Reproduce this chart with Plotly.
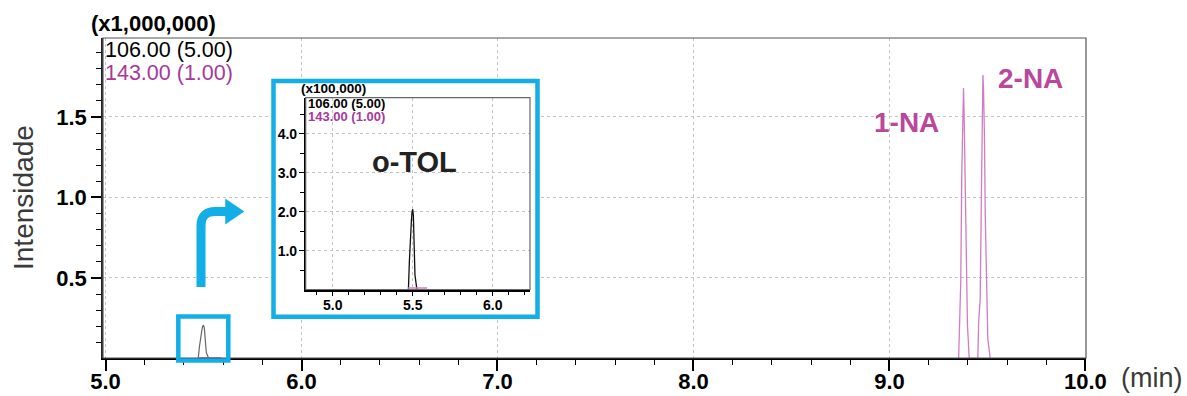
import plotly.graph_objects as go

# ---- data (time in min, intensity in counts) ----
otol_time = [5.467, 5.473, 5.479, 5.485, 5.4915, 5.4956, 5.500, 5.504, 5.508, 5.514, 5.525, 5.531]
otol_counts = [0, 0, 73000, 140000, 176000, 200000, 207000, 190000, 130000, 38000, 4000, 0]

m143_otol_time = [5.470, 5.590]
m143_otol_counts = [5000, 5000]

na1_time = [9.353, 9.356, 9.364, 9.369, 9.374, 9.378, 9.381, 9.386, 9.391, 9.398, 9.407]
na1_counts = [0, 150000, 480000, 1140000, 1530000, 1680000, 1530000, 1140000, 610000, 210000, 0]

na2_time = [9.451, 9.455, 9.463, 9.468, 9.472, 9.477, 9.480, 9.485, 9.489, 9.497, 9.502, 9.514]
na2_counts = [0, 220000, 370000, 880000, 1440000, 1760000, 1680000, 1370000, 880000, 370000, 120000, 0]

main_x_ticks = [5.0, 6.0, 7.0, 8.0, 9.0, 10.0]
main_x_labels = ["5.0", "6.0", "7.0", "8.0", "9.0", "10.0"]
main_y_ticks = [0.5, 1.0, 1.5]
main_y_labels = ["0.5", "1.0", "1.5"]
inset_x_ticks = [5.0, 5.5, 6.0]
inset_x_labels = ["5.0", "5.5", "6.0"]
inset_y_ticks = [1.0, 2.0, 3.0, 4.0]
inset_y_labels = ["1.0", "2.0", "3.0", "4.0"]

# ---- page geometry helpers (pixels -> paper fractions) ----
W, H = 1187, 396


def fx(px):
    return px / W


def fy(py):
    return 1 - py / H


FONT = "Liberation Sans, Arial, sans-serif"
CYAN = "#12aee8"
PINK_LINE = "#d47cc3"
PINK_TEXT = "#bb479d"
PURPLE_TEXT = "#a8389a"
GRID = "#c4c4c4"

m143_time = m143_otol_time + [None] + na1_time + na2_time
m143_counts = m143_otol_counts + [None] + na1_counts + na2_counts


def scaled(vals, f):
    return [None if v is None else v / f for v in vals]


fig = go.Figure()

# main chromatogram (x1,000,000)
fig.add_trace(go.Scatter(x=otol_time, y=scaled(otol_counts, 1e6), mode="lines",
                         line=dict(color="#666666", width=1.2), xaxis="x", yaxis="y"))
fig.add_trace(go.Scatter(x=m143_time, y=scaled(m143_counts, 1e6), mode="lines",
                         line=dict(color=PINK_LINE, width=1.3), xaxis="x", yaxis="y"))

# white panel behind the zoomed view
fig.add_trace(go.Scatter(x=[], y=[], xaxis="x2", yaxis="y2", hoverinfo="skip"))

# zoomed view (x100,000)
fig.add_trace(go.Scatter(x=otol_time, y=scaled(otol_counts, 1e5), mode="lines",
                         line=dict(color="#111111", width=1.3), xaxis="x3", yaxis="y3"))
fig.add_trace(go.Scatter(x=m143_otol_time, y=scaled(m143_otol_counts, 1e5), mode="lines",
                         line=dict(color=PINK_LINE, width=1.5), xaxis="x3", yaxis="y3"))

main_dom_x = [fx(103), fx(1086)]
main_dom_y = [fy(358), fy(38)]
ins_dom_x = [fx(305.7), fx(530)]
ins_dom_y = [fy(289.5), fy(97.7)]
box_dom_x = [fx(272), fx(539.5)]
box_dom_y = [fy(319), fy(79)]

big_tick = dict(family=FONT, size=22, color="black", weight="bold")
small_tick = dict(family=FONT, size=14, color="black", weight="bold")

fig.update_layout(
    width=W, height=H,
    margin=dict(l=0, r=0, t=0, b=0, pad=0, autoexpand=False),
    paper_bgcolor="white", plot_bgcolor="white",
    showlegend=False,
    xaxis=dict(domain=main_dom_x, range=[4.987, 10.003], anchor="y", automargin=False,
               tickmode="array", tickvals=main_x_ticks, ticktext=main_x_labels,
               ticks="outside", ticklen=11, tickwidth=1.5, tickcolor="black",
               tickfont=big_tick, ticklabelstandoff=-8,
               showline=True, linecolor="black", linewidth=2,
               showgrid=True, gridcolor=GRID, gridwidth=1, griddash="3px,3px",
               zeroline=False,
               minor=dict(tickmode="linear", tick0=5.0, dtick=0.2, ticks="outside",
                          ticklen=5, tickwidth=1.2, tickcolor="black", showgrid=False)),
    yaxis=dict(domain=main_dom_y, range=[0.003, 1.99], anchor="x", automargin=False,
               tickmode="array", tickvals=main_y_ticks, ticktext=main_y_labels,
               ticks="outside", ticklen=10, tickwidth=1.5, tickcolor="black",
               tickfont=big_tick,
               showline=True, linecolor="#222222", linewidth=1.5,
               showgrid=True, gridcolor=GRID, gridwidth=1, griddash="3px,3px",
               zeroline=False,
               minor=dict(tickmode="linear", tick0=0.0, dtick=0.1, ticks="outside",
                          ticklen=5, tickwidth=1.2, tickcolor="black", showgrid=False)),
    xaxis2=dict(domain=box_dom_x, range=[0, 1], anchor="y2", visible=False, automargin=False),
    yaxis2=dict(domain=box_dom_y, range=[0, 1], anchor="x2", visible=False, automargin=False),
    xaxis3=dict(domain=ins_dom_x, range=[4.831, 6.233], anchor="y3", automargin=False,
                tickmode="array", tickvals=inset_x_ticks, ticktext=inset_x_labels,
                ticks="outside", ticklen=5, tickwidth=1.2, tickcolor="black",
                tickfont=small_tick, ticklabelstandoff=-3,
                showline=True, linecolor="black", linewidth=1.5,
                showgrid=True, gridcolor=GRID, gridwidth=1, griddash="3px,3px",
                zeroline=False,
                minor=dict(tickmode="linear", tick0=4.9, dtick=0.1, ticks="outside",
                           ticklen=4, tickwidth=1, tickcolor="black", showgrid=False)),
    yaxis3=dict(domain=ins_dom_y, range=[0.01, 4.93], anchor="x3", automargin=False,
                tickmode="array", tickvals=inset_y_ticks, ticktext=inset_y_labels,
                ticks="outside", ticklen=5, tickwidth=1.2, tickcolor="black",
                tickfont=small_tick, ticklabelstandoff=-1,
                showline=True, linecolor="black", linewidth=1.5,
                showgrid=True, gridcolor=GRID, gridwidth=1, griddash="3px,3px",
                zeroline=False,
                minor=dict(tickmode="linear", tick0=0.0, dtick=0.5, ticks="outside",
                           ticklen=4, tickwidth=1, tickcolor="black", showgrid=False)),
)

shapes = []
# top / right frame lines of both plots
shapes.append(dict(type="rect", xref="paper", yref="paper",
                   x0=main_dom_x[0], x1=main_dom_x[1], y0=main_dom_y[0], y1=main_dom_y[1],
                   line=dict(color="#555555", width=1.2), layer="above"))
shapes.append(dict(type="rect", xref="paper", yref="paper",
                   x0=ins_dom_x[0], x1=ins_dom_x[1], y0=ins_dom_y[0], y1=ins_dom_y[1],
                   line=dict(color="#666666", width=1.2), layer="above"))
# cyan frame around the zoomed view
shapes.append(dict(type="rect", xref="paper", yref="paper",
                   x0=fx(273.5), x1=fx(537.5), y0=fy(316.8), y1=fy(81),
                   line=dict(color=CYAN, width=4.5), layer="above"))
# cyan frame around the small peak
shapes.append(dict(type="rect", xref="paper", yref="paper",
                   x0=fx(178.3), x1=fx(228.3), y0=fy(360.5), y1=fy(316.5),
                   line=dict(color=CYAN, width=4.5), layer="above"))
# bent arrow
arrow_path = (f"M {fx(201)},{fy(287)} L {fx(201)},{fy(226)} "
              f"Q {fx(201)},{fy(211.5)} {fx(215.5)},{fy(211.5)} L {fx(228)},{fy(211.5)}")
shapes.append(dict(type="path", xref="paper", yref="paper", path=arrow_path,
                   line=dict(color=CYAN, width=9), layer="above"))
head_path = (f"M {fx(225.5)},{fy(199)} L {fx(244)},{fy(211.5)} "
             f"L {fx(225.5)},{fy(224)} Z")
shapes.append(dict(type="path", xref="paper", yref="paper", path=head_path,
                   fillcolor=CYAN, line=dict(color=CYAN, width=0.5), layer="above"))
fig.update_layout(shapes=shapes)


def txt(s, x, y, size, color="black", bold=False, xanchor="left", angle=0):
    return dict(text=s, xref="paper", yref="paper", x=fx(x), y=fy(y),
                xanchor=xanchor, yanchor="middle", showarrow=False, textangle=angle,
                borderpad=0,
                font=dict(family=FONT, size=size, color=color,
                          weight="bold" if bold else "normal"))


annotations = [
    txt("(x1,000,000)", 90, 24, 22, bold=True),
    txt("106.00 (5.00)", 104, 50, 21.5),
    txt("143.00 (1.00)", 104, 72.5, 21.5, color=PURPLE_TEXT),
    txt("Intensidade", 23, 198, 28, color="#3a3a3a", xanchor="center", angle=-90),
    txt("(min)", 1152, 378, 27, color="#3a3a3a", xanchor="center"),
    txt("1-NA", 906, 123, 28, color=PINK_TEXT, bold=True, xanchor="center"),
    txt("2-NA", 1030, 78, 28, color=PINK_TEXT, bold=True, xanchor="center"),
    txt("(x100,000)", 300, 89, 13.5, bold=True),
    txt("106.00 (5.00)", 307.5, 103, 13, bold=True),
    txt("143.00 (1.00)", 307.5, 117, 13, color=PURPLE_TEXT, bold=True),
    txt("o-TOL", 414, 162, 29, color="#222222", bold=True, xanchor="center"),
]
fig.update_layout(annotations=annotations)

fig.write_html("out.html", config={"displayModeBar": False})
